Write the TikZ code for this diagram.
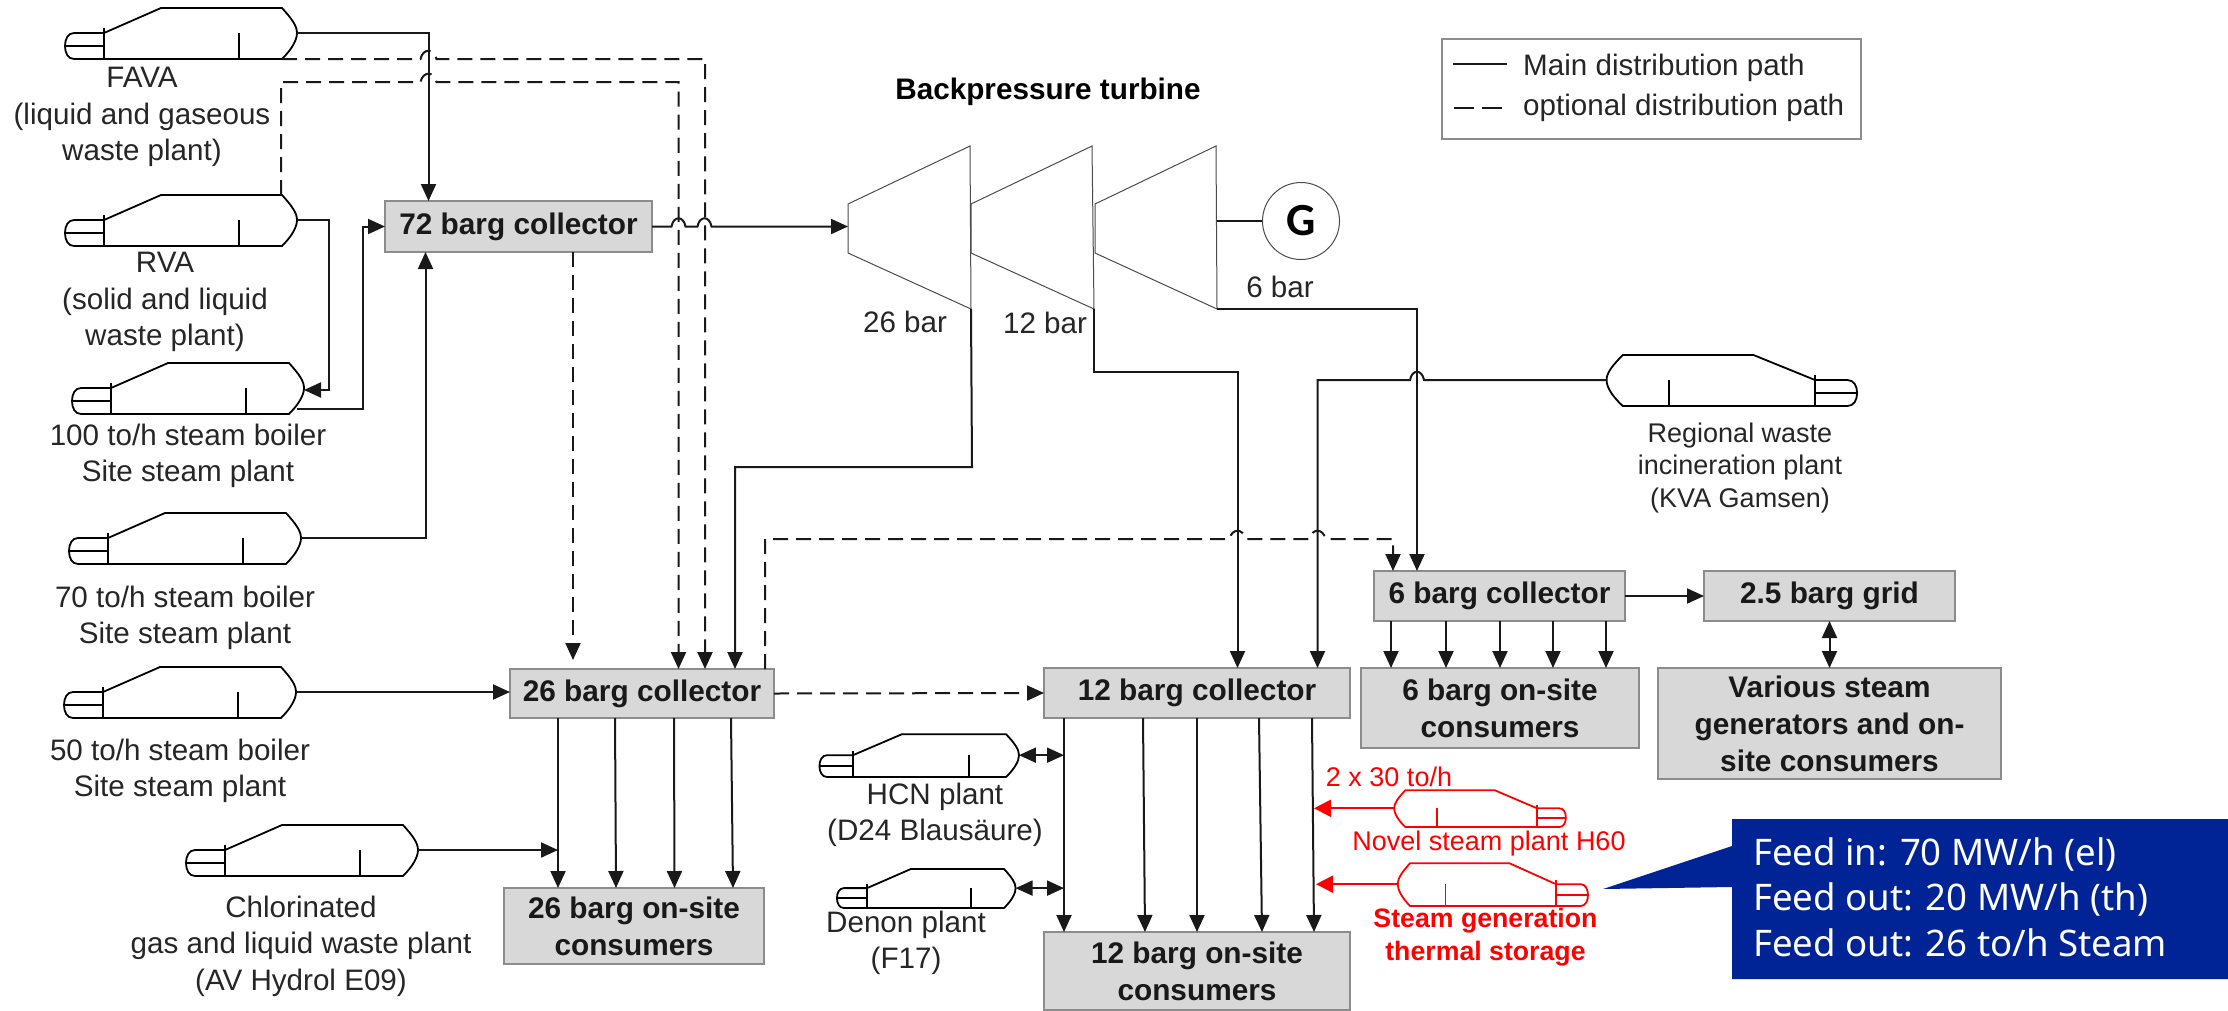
\documentclass[tikz,border=0pt]{standalone}
\usepackage{fontspec}
\setmainfont{Liberation Sans}
\newfontfamily\calloutfont{Noto Sans}
\newfontfamily\gfont{Carlito}
\usetikzlibrary{arrows.meta}
\newcommand\hop[3]{-- (#1-#3,#2) .. controls (#1-#3*0.7,#2-11) and (#1+#3*0.7,#2-11) .. (#1+#3,#2)}
\definecolor{boxgray}{HTML}{D8D8D8}
\definecolor{boxedge}{HTML}{8C8C8C}
\definecolor{callblue}{HTML}{002395}
\tikzset{
  x=1pt,y=-1pt,
  pipe/.style={line width=2pt,draw=black!90},
  arr/.style={pipe,-{Triangle[length=17pt,width=15pt]}},
  darr/.style={pipe,{Triangle[length=17pt,width=15pt]}-{Triangle[length=17pt,width=15pt]}},
  opt/.style={pipe,dash pattern=on 15pt off 8pt},
  optarr/.style={opt,-{Triangle[length=17pt,width=15pt]}},
  redarr/.style={line width=2pt,draw=red,-{Triangle[length=17pt,width=17pt]}},
  gbox/.style={draw=boxedge,line width=1.5pt,fill=boxgray,inner sep=0pt,outer sep=0pt,align=center,
    font=\fontsize{29.8}{37}\selectfont\bfseries,text=black!90},
  lab/.style={inner sep=0pt,align=center,font=\fontsize{29.6}{36.5}\selectfont,text=black!85},
  smalllab/.style={inner sep=0pt,align=center,font=\fontsize{27}{32.5}\selectfont,text=black!85},
  redlab/.style={inner sep=0pt,align=center,font=\fontsize{27}{33}\selectfont,text=red},
  turb/.style={line width=1pt,draw=black!70},
  boiler/.pic={
    \draw[line width=1.8pt,line join=round] (0,-26) -- (57,-51) -- (178,-51)
       .. controls (188,-40) and (193,-33) .. (193,-26)
       .. controls (193,-19) and (188,-10) .. (178,0) -- (-30,0)
       .. controls (-36,0) and (-39,-6) .. (-39,-13)
       .. controls (-39,-20) and (-36,-26) .. (-30,-26) -- (0,-26);
    \draw[line width=1.8pt] (0,-31) -- (0,0);
    \draw[line width=1.8pt] (-38,-13) -- (0,-13);
    \draw[line width=1.5pt] (135,-26) -- (135,0);
    \coordinate (-out) at (193,-26);
    \coordinate (-lo) at (178,0);
    \coordinate (-hi) at (178,-51);
  },
}
\begin{document}
\begin{tikzpicture}
\useasboundingbox (0,0) rectangle (2228,1010);
\fill[white] (0,0) rectangle (2228,1010);

% boilers
\pic (fava) at (104,59) {boiler};
\pic (rva) at (104,246) {boiler};
\pic (b100) at (111,414) {boiler};
\pic (b70) at (108,564) {boiler};
\pic (b50) at (103,718) {boiler};
\pic (chl) at (225,876) {boiler};
\pic[xscale=0.86,yscale=0.84] (hcn) at (853,777) {boiler};
\pic[xscale=0.77,yscale=0.765] (den) at (867,908) {boiler};
\pic[xscale=-0.74,yscale=0.72,red] (h60) at (1537,827) {boiler};
\pic[xscale=-0.82,yscale=0.84,red] (ts) at (1556,906) {boiler};
\pic[xscale=-1.08,yscale=1] (kva) at (1815,406) {boiler};

% boxes
\node[gbox,minimum width=267pt,minimum height=51pt] (c72) at (518.5,226.5) {72 barg collector};
\node[gbox,minimum width=264pt,minimum height=49pt] (c26) at (642,693.5) {26 barg collector};
\node[gbox,minimum width=260pt,minimum height=76pt] (u26) at (634,926) {26 barg on-site\\consumers};
\node[gbox,minimum width=306pt,minimum height=50pt] (c12) at (1197,693) {12 barg collector};
\node[gbox,minimum width=306pt,minimum height=78pt] (u12) at (1197,971) {12 barg on-site\\consumers};
\node[gbox,minimum width=251pt,minimum height=50pt] (c6) at (1499.5,596) {6 barg collector};
\node[gbox,minimum width=278pt,minimum height=80pt] (u6) at (1500,708) {6 barg on-site\\consumers};
\node[gbox,minimum width=251pt,minimum height=50pt] (g25) at (1829.5,596) {2.5 barg grid};
\node[gbox,minimum width=343pt,minimum height=111pt] (var) at (1829.5,723.5) {Various steam\\generators and on-\\site consumers};

% turbine
\draw[turb] (848,204) coordinate (t1in) -- (970,146) -- (971,309) coordinate (t1ex) -- (848,253) -- cycle;
\draw[turb] (971,204) -- (1092,146) -- (1094,309) coordinate (t2ex) -- (971,253) -- cycle;
\draw[turb] (1095,204) -- (1216,146) -- (1217,309) coordinate (t3ex) -- (1095,253) -- cycle;
\node[circle,draw=black!70,line width=1pt,minimum size=77pt,inner sep=0pt,font=\fontsize{46}{46}\selectfont\gfont\bfseries] (gen) at (1301,221) {G};
\coordinate (t3sh) at (1217,221);
\draw[pipe] (t3sh) -- (gen);

% main connectors
\draw[arr] (fava-out) -| (428.5,0 |- c72.north);
\draw[arr] (rva-out) -- (329,0 |- rva-out) -- (329,390) -- (b100-out |- 0,390);
\draw[arr] (297,409) coordinate (b100ex) -- (363,409) -- (363,0 |- c72.west) -- (c72.west);
\draw[arr] (b70-out) -| (425.5,0 |- c72.south);
\draw[arr] (b50-out) -- (c26.west |- b50-out);
\draw[arr] (chl-out) -- (558,850) coordinate (chlend);
\draw[arr] (c72.east) \hop{678.5}{226.5}{7} \hop{704.5}{226.5}{7} -- (t1in |- 0,226.5);
\draw[arr] (t1ex) -- (972,467) -- (735,467) -- (735,0 |- c26.north);
\draw[arr] (t2ex) -- (1094,372) -- (1237.5,372) -- (1237.5,0 |- c12.north);
\draw[arr] (kva-out) \hop{1417}{380}{-7} -- (1317.5,380) -- (1317.5,0 |- c12.north);
\draw[arr] (t3ex) -- (1417,309) -- (1417,0 |- c6.north);
\foreach \a/\b in {558/558,615/616,674/674.5,731/733}
  \draw[arr] (\a,0 |- c26.south) -- (\b,0 |- u26.north);
\foreach \a/\b in {1064/1064,1143/1145,1197/1197,1259/1262,1312/1314}
  \draw[arr] (\a,0 |- c12.south) -- (\b,0 |- u12.north);
\foreach \a in {1391,1446,1500,1553,1606}
  \draw[arr] (\a,0 |- c6.south) -- (\a,0 |- u6.north);
\draw[arr] (c6.east) -- (g25.west);
\draw[darr] (g25.south) -- (var.north);
\draw[darr] (hcn-out) -- (1064,0 |- hcn-out);
\draw[darr] (den-out) -- (1064,0 |- den-out);
\draw[redarr] (h60-out) -- (1314,0 |- h60-out);
\draw[redarr] (ts-out) -- (1316,0 |- ts-out);

% optional connectors
\draw[optarr] (c72.south -| 573,0) -- (573,660);
\draw[optarr] (fava-lo) \hop{428.5}{59}{8} -- (705,59) -- (705,0 |- c26.north);
\draw[optarr] (281,0 |- rva-hi) -- (281,82) \hop{428.5}{82}{8} -- (678.5,82) -- (678.5,0 |- c26.north);
\draw[optarr] (765,0 |- c26.north) -- (765,539) \hop{1237.5}{539}{8} \hop{1317.5}{539}{8} -- (1393,539) -- (1393,0 |- c6.north);
\draw[optarr] (c26.east) -- (c12.west);

% labels
\node[lab] (l1) at (142,117) {FAVA\\(liquid and gaseous\\waste plant)};
\node[lab] (l2) at (165,302) {RVA\\(solid and liquid\\waste plant)};
\node[lab] (l3) at (188,456) {100 to/h steam boiler\\Site steam plant};
\node[lab] (l4) at (185,618) {70 to/h steam boiler\\Site steam plant};
\node[lab] (l5) at (180,771) {50 to/h steam boiler\\Site steam plant};
\node[lab] (l6) at (301,946) {Chlorinated\\gas and liquid waste plant\\(AV Hydrol E09)};
\node[lab] (l7) at (905,322) {26 bar};
\node[lab] (l8) at (1045,323) {12 bar};
\node[lab] (l9) at (1280,287) {6 bar};
\node[lab,font=\fontsize{29.7}{36}\selectfont\bfseries,text=black] (l10) at (1048,92) {Backpressure turbine};
\node[lab] (l11) at (935,815) {HCN plant\\(D24 Blausäure)};
\node[lab] (l12) at (906,943) {Denon plant\\(F17)};
\node[redlab] (l13) at (1389,777) {2 x 30 to/h};
\node[redlab] (l14) at (1489,844) {Novel steam plant H60};
\node[redlab,font=\fontsize{26.7}{33}\selectfont\bfseries] (l15) at (1485.5,937) {Steam generation\\thermal storage};
\node[smalllab] (l16) at (1740,468) {Regional waste\\incineration plant\\(KVA Gamsen)};

% legend
\node[draw=boxedge,line width=1.2pt,fill=white,minimum width=419pt,minimum height=100pt,inner sep=0pt] (leg) at (1651.5,89) {};
\coordinate (ls1) at (1453,64); \coordinate (ls2) at (1507,64);
\coordinate (ld1) at (1454,108); \coordinate (ld2) at (1510,108);
\draw[pipe] (ls1) -- (ls2);
\draw[pipe,dash pattern=on 20pt off 8pt] (ld1) -- (ld2);
\node[lab,anchor=west] (lt1) at (1523,68) {Main distribution path};
\node[lab,anchor=west] (lt2) at (1523,108) {optional distribution path};

% callout
\fill[callblue] (1732,819) -- (2228,819) -- (2228,979) -- (1732,979) -- (1732,887) -- (1603,889) -- (1732,846) -- cycle;
\node[anchor=west,inner sep=0pt,align=left,text=white,font=\fontsize{36.6}{45.5}\selectfont\calloutfont] (feed) at (1753,897)
  {Feed in: 70 MW/h (el)\\Feed out: 20 MW/h (th)\\Feed out: 26 to/h Steam};
\end{tikzpicture}
\end{document}
